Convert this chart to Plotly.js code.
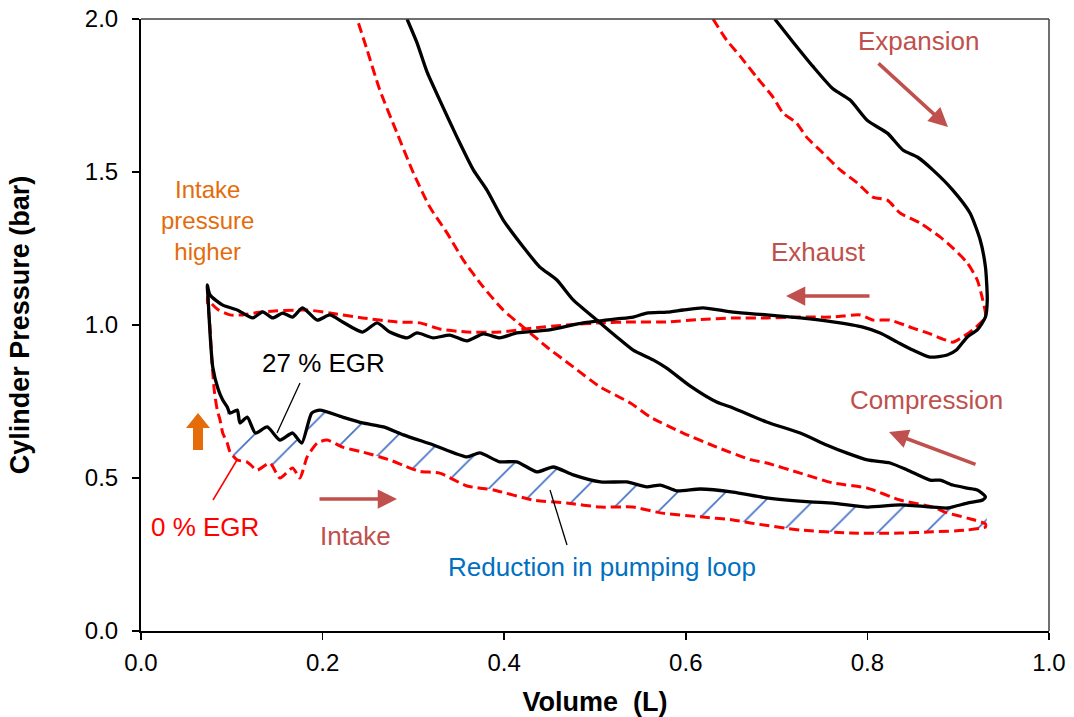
<!DOCTYPE html>
<html>
<head>
<meta charset="utf-8">
<script src="https://cdn.plot.ly/plotly-3.0.1.min.js"></script>
<style>html,body{margin:0;padding:0;background:#fff;}#chart{width:1074px;height:717px;}</style>
</head>
<body>
<div id="chart"></div>
<script>
// ---- 27 % EGR (black, solid) : phases of the cycle ----
const egr27ExpX = [0.698,0.718,0.740,0.762,0.781,0.800,0.822,0.839,0.855,0.872,0.894,0.913,0.924,0.930,0.932,0.930,0.921,0.910,0.898,0.888,0.869];
const egr27ExpY = [2.0,1.925,1.845,1.772,1.735,1.668,1.627,1.572,1.549,1.507,1.441,1.366,1.280,1.190,1.082,1.026,0.984,0.961,0.918,0.902,0.895];
const egr27ExhX = [0.850,0.833,0.814,0.795,0.762,0.726,0.689,0.652,0.619,0.597,0.579,0.557,0.542,0.524,0.487,0.450,0.414,0.395,0.377,0.359,0.340,0.322,0.304,0.293,0.274,0.260,0.244,0.222,0.208,0.194,0.178,0.167,0.156,0.145,0.134,0.123,0.106,0.090,0.076,0.073];
const egr27ExhY = [0.918,0.944,0.974,0.993,1.010,1.023,1.033,1.042,1.056,1.049,1.042,1.039,1.026,1.020,1.007,0.984,0.974,0.958,0.971,0.948,0.967,0.958,0.974,0.958,0.977,1.007,0.977,1.010,1.033,1.016,1.056,1.026,1.039,1.023,1.043,1.023,1.049,1.065,1.098,1.131];
const egr27IntX = [0.074,0.076,0.079,0.085,0.090,0.095,0.098,0.106,0.109,0.117,0.126,0.139,0.153,0.167,0.177,0.188,0.197,0.222,0.244,0.267,0.289,0.322,0.359,0.373,0.395,0.414,0.436,0.454,0.476,0.506,0.535,0.557,0.572,0.590,0.616,0.652,0.689,0.737,0.762,0.800,0.836,0.872,0.888,0.910,0.927,0.930];
const egr27IntY = [1.082,0.974,0.863,0.790,0.755,0.732,0.712,0.722,0.680,0.699,0.647,0.667,0.624,0.647,0.614,0.712,0.722,0.699,0.680,0.667,0.641,0.608,0.569,0.582,0.553,0.553,0.520,0.536,0.510,0.487,0.487,0.471,0.477,0.458,0.464,0.454,0.435,0.422,0.418,0.405,0.412,0.405,0.402,0.418,0.428,0.438];
const egr27CmpX = [0.921,0.910,0.894,0.880,0.869,0.844,0.825,0.800,0.777,0.755,0.726,0.689,0.652,0.634,0.605,0.579,0.564,0.542,0.524,0.502,0.476,0.458,0.439,0.421,0.399,0.381,0.366,0.348,0.329,0.315,0.304,0.293];
const egr27CmpY = [0.461,0.467,0.477,0.493,0.493,0.526,0.549,0.559,0.582,0.608,0.647,0.683,0.729,0.748,0.800,0.859,0.886,0.918,0.961,1.016,1.082,1.147,1.190,1.255,1.343,1.441,1.507,1.614,1.735,1.827,1.922,2.0];

// ---- 0 % EGR (red, dashed) ----
const egr0ExpX = [0.630,0.645,0.660,0.678,0.696,0.707,0.722,0.733,0.751,0.770,0.789,0.806,0.822,0.836,0.858,0.880,0.894,0.910,0.921,0.927,0.930];
const egr0ExpY = [2.0,1.931,1.878,1.810,1.745,1.693,1.660,1.614,1.562,1.507,1.464,1.418,1.408,1.366,1.333,1.288,1.252,1.203,1.147,1.082,1.026];
const egr0ExhX = [0.916,0.905,0.894,0.883,0.869,0.850,0.825,0.806,0.792,0.762,0.726,0.689,0.652,0.616,0.579,0.542,0.506,0.469,0.432,0.395,0.359,0.329,0.307,0.282,0.244,0.208,0.183,0.134,0.112,0.098,0.085,0.076,0.073];
const egr0ExhY = [0.984,0.961,0.944,0.954,0.971,0.990,1.016,1.016,1.033,1.026,1.026,1.023,1.023,1.018,1.010,1.010,1.007,1.000,0.990,0.977,0.977,0.987,1.007,1.010,1.023,1.039,1.049,1.043,1.033,1.033,1.050,1.075,1.090];
const egr0IntX = [0.075,0.076,0.078,0.081,0.084,0.087,0.090,0.095,0.098,0.106,0.117,0.128,0.142,0.153,0.167,0.175,0.183,0.194,0.205,0.222,0.244,0.274,0.290,0.307,0.329,0.359,0.388,0.432,0.469,0.506,0.542,0.572,0.616,0.652,0.671,0.726,0.781,0.836,0.872,0.910,0.930];
const egr0IntY = [1.030,0.993,0.886,0.778,0.722,0.690,0.647,0.614,0.585,0.559,0.552,0.526,0.549,0.500,0.533,0.500,0.569,0.614,0.624,0.601,0.585,0.559,0.540,0.522,0.516,0.474,0.461,0.428,0.418,0.405,0.405,0.386,0.373,0.363,0.353,0.330,0.320,0.320,0.324,0.330,0.340];
const egr0CmpX = [0.930,0.910,0.888,0.872,0.836,0.800,0.762,0.726,0.689,0.671,0.634,0.597,0.561,0.539,0.506,0.476,0.447,0.421,0.399,0.377,0.355,0.337,0.318,0.300,0.282,0.263,0.249,0.238];
const egr0CmpY = [0.350,0.369,0.386,0.405,0.428,0.467,0.484,0.516,0.549,0.560,0.601,0.647,0.699,0.745,0.797,0.863,0.928,0.993,1.049,1.124,1.212,1.301,1.386,1.497,1.627,1.768,1.899,2.0];

const xTicks = [0.0,0.2,0.4,0.6,0.8,1.0];
const yTicks = [0.0,0.5,1.0,1.5,2.0];
const hatchStartX = 0.095;

const egr27X = [].concat(egr27ExpX, egr27ExhX, egr27IntX, egr27CmpX);
const egr27Y = [].concat(egr27ExpY, egr27ExhY, egr27IntY, egr27CmpY);
const egr0X = [].concat(egr0ExpX, egr0ExhX, egr0IntX, egr0CmpX);
const egr0Y = [].concat(egr0ExpY, egr0ExhY, egr0IntY, egr0CmpY);

// hatched region between the two intake strokes
const hx = [], hy = [];
egr0IntX.forEach((x, i) => { if (x >= hatchStartX) { hx.push(x); hy.push(egr0IntY[i]); } });
for (let i = egr27IntX.length - 1; i >= 0; i--) {
  if (egr27IntX[i] >= hatchStartX) { hx.push(egr27IntX[i]); hy.push(egr27IntY[i]); }
}

const FONT = 'Liberation Sans, Arial, sans-serif';
const PROC = '#C0504D';

const traces = [
  {x: hx, y: hy, type: 'scatter', mode: 'lines', fill: 'toself',
   fillcolor: 'rgba(255,255,255,0)', line: {width: 0, color: 'rgba(0,0,0,0)', shape: 'spline', smoothing: 0.6},
   fillpattern: {shape: '/', fgcolor: '#4472C4', bgcolor: 'rgba(255,255,255,0)', size: 34, solidity: 0.05},
   hoverinfo: 'skip', showlegend: false},
  {x: egr0X, y: egr0Y, type: 'scatter', mode: 'lines', name: '0 % EGR',
   line: {color: '#FF0000', width: 3, dash: '10px,5px', shape: 'spline', smoothing: 0.6}, showlegend: false},
  {x: egr27X, y: egr27Y, type: 'scatter', mode: 'lines', name: '27 % EGR',
   line: {color: '#000000', width: 3.3, shape: 'spline', smoothing: 0.6}, showlegend: false}
];

function px2x(p) { return (p - 141) / 908; }
function px2y(p) { return (631 - p) / 306; }

const annotations = [
  {x: px2x(207), y: px2y(220), text: 'Intake<br>pressure<br>higher', showarrow: false,
   font: {family: FONT, size: 24, color: '#E46C0A'}, align: 'center'},
  {x: px2x(323), y: px2y(363), text: '27 % EGR', showarrow: false, font: {family: FONT, size: 26, color: '#000'}},
  {x: px2x(205), y: px2y(527), text: '0 % EGR', showarrow: false, font: {family: FONT, size: 26, color: '#FF0000'}},
  {x: px2x(355), y: px2y(536), text: 'Intake', showarrow: false, font: {family: FONT, size: 26, color: PROC}},
  {x: px2x(602), y: px2y(567), text: 'Reduction in pumping loop', showarrow: false, font: {family: FONT, size: 26, color: '#0070C0'}},
  {x: px2x(818), y: px2y(252), text: 'Exhaust', showarrow: false, font: {family: FONT, size: 26, color: PROC}},
  {x: px2x(918), y: px2y(41), text: 'Expansion', showarrow: false, font: {family: FONT, size: 26, color: PROC}},
  {x: px2x(926), y: px2y(400), text: 'Compression', showarrow: false, font: {family: FONT, size: 26, color: PROC}},
  // process arrows
  {x: px2x(397), y: px2y(499), ax: px2x(318), ay: px2y(499), axref: 'x', ayref: 'y', text: '',
   showarrow: true, arrowhead: 2, arrowsize: 1.1, arrowwidth: 3.5, arrowcolor: PROC},
  {x: px2x(786), y: px2y(296), ax: px2x(871), ay: px2y(296), axref: 'x', ayref: 'y', text: '',
   showarrow: true, arrowhead: 2, arrowsize: 1.1, arrowwidth: 3.5, arrowcolor: PROC},
  {x: px2x(948), y: px2y(127), ax: px2x(877), ay: px2y(62), axref: 'x', ayref: 'y', text: '',
   showarrow: true, arrowhead: 2, arrowsize: 1.1, arrowwidth: 3.5, arrowcolor: PROC},
  {x: px2x(889), y: px2y(432), ax: px2x(977), ay: px2y(465), axref: 'x', ayref: 'y', text: '',
   showarrow: true, arrowhead: 2, arrowsize: 1.1, arrowwidth: 3.5, arrowcolor: PROC}
];

const shapes = [
  // frame top and right
  {type: 'line', xref: 'paper', yref: 'paper', x0: 0, y0: 1, x1: 1, y1: 1, line: {color: '#404040', width: 1.5}},
  {type: 'line', xref: 'paper', yref: 'paper', x0: 1, y0: 0, x1: 1, y1: 1, line: {color: '#404040', width: 1.5}},
  // leader lines
  {type: 'line', x0: px2x(300), y0: px2y(383), x1: px2x(277), y1: px2y(433), line: {color: '#000', width: 1.3}},
  {type: 'line', x0: px2x(213), y0: px2y(500), x1: px2x(237), y1: px2y(460), line: {color: '#FF0000', width: 1.5}},
  {type: 'line', x0: px2x(550), y0: px2y(490), x1: px2x(567), y1: px2y(545), line: {color: '#000', width: 1.3}},
  // orange block arrow
  {type: 'path', fillcolor: '#E46C0A', line: {width: 0},
   path: 'M ' + px2x(193) + ',' + px2y(450) + ' L ' + px2x(203) + ',' + px2y(450) +
         ' L ' + px2x(203) + ',' + px2y(428) + ' L ' + px2x(210) + ',' + px2y(428) +
         ' L ' + px2x(198) + ',' + px2y(413) + ' L ' + px2x(186) + ',' + px2y(428) +
         ' L ' + px2x(193) + ',' + px2y(428) + ' Z'}
];

const layout = {
  width: 1074, height: 717,
  margin: {l: 141, r: 25, t: 19, b: 86},
  paper_bgcolor: '#fff', plot_bgcolor: '#fff',
  font: {family: FONT, size: 24, color: '#000'},
  xaxis: {range: [0, 1], tickvals: xTicks, ticktext: xTicks.map(v => v.toFixed(1)),
          ticks: 'outside', ticklen: 7, tickwidth: 1.5, tickcolor: '#000',
          showline: true, linecolor: '#000', linewidth: 2, showgrid: false, zeroline: false,
          tickfont: {family: FONT, size: 24, color: '#000'}, ticklabelstandoff: 2,
          title: {text: '<b>Volume  (L)</b>', font: {family: FONT, size: 27, color: '#000'}, standoff: 17}},
  yaxis: {range: [0, 2], tickvals: yTicks, ticktext: yTicks.map(v => v.toFixed(1)),
          ticks: 'outside', ticklen: 7, tickwidth: 1.5, tickcolor: '#000',
          showline: true, linecolor: '#000', linewidth: 2, showgrid: false, zeroline: false,
          tickfont: {family: FONT, size: 24, color: '#000'}, ticklabelstandoff: 9,
          title: {text: '<b>Cylinder Pressure (bar)</b>', font: {family: FONT, size: 27, color: '#000'}, standoff: 47}},
  annotations: annotations,
  shapes: shapes,
  showlegend: false
};

Plotly.newPlot('chart', traces, layout, {displayModeBar: false, staticPlot: true});
</script>
</body>
</html>
